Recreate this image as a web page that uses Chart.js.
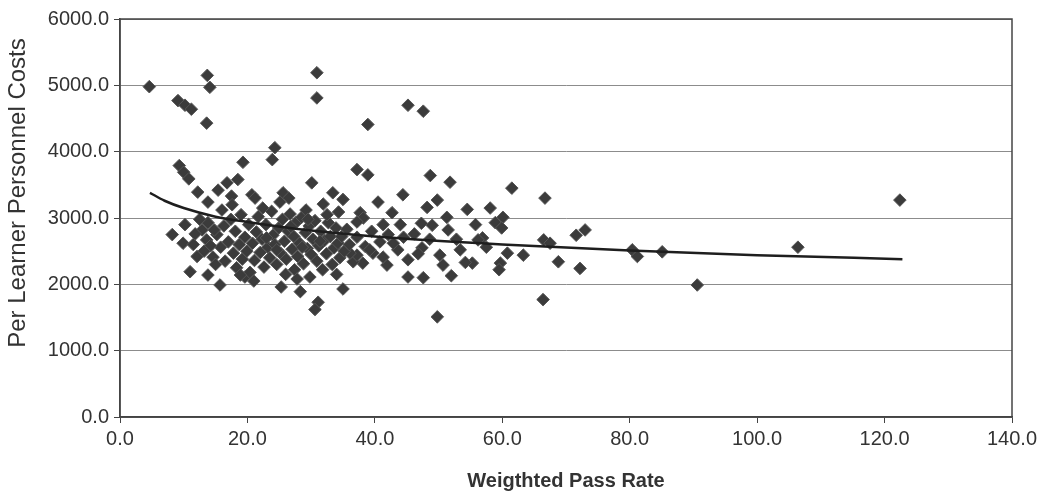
<!DOCTYPE html>
<html><head><meta charset="utf-8">
<script src="https://cdn.jsdelivr.net/npm/chart.js@4/dist/chart.umd.min.js"></script>
<style>html,body{margin:0;padding:0;background:#fff;}#wrap{width:1043px;height:497px;position:relative;}</style>
</head><body><div id="wrap"><canvas id="c"></canvas></div>
<script>
const passRate = [
  4.6, 9.1, 10.2, 11.2, 13.7, 14.1, 13.6, 30.9, 30.9, 38.9, 45.2, 47.6,
  24.3, 23.9, 19.3, 9.3, 10.0, 10.8, 37.2, 38.9, 48.7, 51.8, 61.5, 66.7,
  30.1, 18.5, 16.8, 15.4, 12.2, 13.8, 17.5, 20.7, 21.2, 25.6, 25.1, 26.5,
  31.9, 33.4, 35.0, 34.3, 37.7, 40.5, 44.4, 49.8, 48.2, 42.7, 54.5, 58.1, 51.3, 60.1, 58.9, 59.9,
  38.2, 37.2, 41.3, 47.3, 49.0, 51.5, 42.1, 44.5,
  56.9, 56.2, 66.5, 67.5, 71.6, 73.0, 80.4, 81.2, 85.1, 90.6, 106.4, 122.4,
  60.8, 63.3, 59.7, 59.5, 68.8, 72.2, 66.4,
  55.3, 53.4, 54.2, 50.2, 50.7, 52.0, 47.6, 45.2, 45.2, 47.4, 43.6, 39.7, 38.5, 41.9, 41.3, 40.8, 39.2, 38.1, 36.6, 37.2, 36.1, 37.2, 49.8,
  35.0, 31.1, 30.6, 28.3, 25.3, 29.8, 27.4, 19.6, 15.7, 13.8, 11.0, 12.1, 9.9, 8.2, 10.2, 12.9, 13.6, 14.6, 13.8,
  15.2, 15.8, 16.3, 16.5, 17.0, 17.4, 17.8, 18.1, 18.3, 18.7, 19.0, 19.2, 19.6, 19.9, 20.2, 20.4, 16.0, 17.6, 18.9,
  20.8, 21.1, 21.4, 21.7, 22.0, 22.3, 22.6, 22.9, 23.2, 23.5, 23.8, 24.0, 24.3, 24.6, 24.9, 25.2, 22.4, 21.0,
  25.5, 25.8, 26.1, 26.4, 26.7, 27.0, 27.3, 27.6, 27.9, 28.2, 28.5, 28.8, 29.1, 29.4, 29.7, 30.0, 30.3, 26.0, 27.8, 29.2,
  30.6, 30.9, 31.2, 31.5, 31.8, 32.1, 32.4, 32.7, 33.0, 33.3, 33.6, 33.9, 34.2, 34.5, 34.8, 35.2, 35.6, 36.0, 32.5, 34.0,
  11.5, 12.5, 14.2, 14.8, 11.8, 15.0, 13.2,
  39.5, 42.9, 44.0, 46.2, 46.8, 48.6, 52.8, 55.8, 57.5,
  23.0, 26.8, 28.6, 31.4, 24.6, 29.5
];
const personnelCost = [
  4980, 4770, 4700, 4640, 5150, 4970, 4430, 5190, 4810, 4410, 4700, 4610,
  4060, 3880, 3840, 3790, 3690, 3590, 3730, 3650, 3640, 3540, 3450, 3300,
  3530, 3580, 3530, 3420, 3390, 3240, 3330, 3350, 3300, 3380, 3240, 3300,
  3210, 3380, 3280, 3090, 3080, 3240, 3350, 3270, 3160, 3080, 3130, 3150, 3010, 3010, 2930, 2850,
  3000, 2940, 2900, 2920, 2890, 2820, 2750, 2710,
  2700, 2670, 2670, 2620, 2740, 2820, 2520, 2420, 2490, 1990, 2560, 3270,
  2470, 2440, 2320, 2220, 2340, 2240, 1770,
  2320, 2520, 2330, 2440, 2290, 2130, 2100, 2110, 2370, 2550, 2520, 2470, 2570, 2290, 2410, 2640, 2520, 2320, 2340, 2440, 2470, 2710, 1510,
  1930, 1730, 1620, 1890, 1960, 2110, 2220, 2110, 1990, 2140, 2190, 2420, 2620, 2750, 2900, 2820, 2670, 2410, 2930,
  2750, 2560, 2880, 2350, 2640, 2980, 2470, 2800, 2250, 2600, 3050, 2380, 2710, 2500, 2900, 2180, 3120, 3200, 2140,
  2620, 2360, 2790, 3020, 2480, 2680, 2260, 2900, 2560, 2400, 3100, 2740, 2600, 2300, 2850, 2470, 3150, 2050,
  2980, 2650, 2380, 2800, 3060, 2530, 2720, 2930, 2420, 2620, 3010, 2310, 2780, 2540, 2880, 2450, 2680, 2150, 2080, 3120,
  2960, 2350, 2580, 2800, 2220, 2660, 2460, 2930, 2720, 2300, 2550, 2850, 2620, 2400, 2720, 2500, 2830, 2600, 3050, 2150,
  2600, 2980, 2580, 2820, 2760, 2300, 2500,
  2800, 2620, 2900, 2760, 2460, 2680, 2680, 2900, 2560,
  2700, 2870, 2560, 2650, 2520, 2980
];
const trendX = [4.7, 7, 10, 15, 20, 30, 40, 60, 80, 100, 122.8];
const trendY = [3380, 3260, 3150, 3020, 2940, 2810, 2720, 2600, 2510, 2440, 2380];
const xTickValues = [0, 20, 40, 60, 80, 100, 120, 140];
const yTickValues = [0, 1000, 2000, 3000, 4000, 5000, 6000];
const xTitle = 'Weigthted Pass Rate';
const yTitle = 'Per Learner Personnel Costs';

const scatterPoints = passRate.map((x, i) => ({x: x, y: personnelCost[i]}));
const trendPoints = trendX.map((x, i) => ({x: x, y: trendY[i]}));

const FONT = '"Liberation Sans", Arial, sans-serif';

const frame = {
  id: 'frame',
  beforeDatasetsDraw(chart) {
    const {ctx, chartArea: a} = chart;
    ctx.save();
    ctx.strokeStyle = '#444';
    ctx.lineWidth = 1.5;
    ctx.strokeRect(a.left, a.top, a.right - a.left, a.bottom - a.top);
    ctx.restore();
  }
};
const yTitlePlugin = {
  id: 'ytitle',
  afterDraw(chart) {
    const ctx = chart.ctx;
    ctx.save();
    ctx.translate(18, 193);
    ctx.rotate(-Math.PI / 2);
    ctx.font = '24px ' + FONT;
    ctx.fillStyle = '#333';
    ctx.textAlign = 'center';
    ctx.textBaseline = 'middle';
    ctx.fillText(yTitle, 0, 0);
    ctx.restore();
  }
};

new Chart(document.getElementById('c'), {
  type: 'scatter',
  data: {
    datasets: [
      {
        label: 'Data',
        data: scatterPoints,
        pointStyle: 'rectRot',
        pointRadius: 6.3,
        pointHoverRadius: 6.3,
        backgroundColor: '#3b3b3b',
        borderColor: '#555',
        borderWidth: 1,
        order: 2
      },
      {
        label: 'Trend',
        data: trendPoints,
        showLine: true,
        pointRadius: 0,
        borderColor: '#1e1e1e',
        borderWidth: 2.5,
        tension: 0.4,
        cubicInterpolationMode: 'monotone',
        fill: false,
        order: 1
      }
    ]
  },
  options: {
    responsive: true,
    maintainAspectRatio: false,
    animation: false,
    layout: {padding: {top: 19, right: 31, left: 0, bottom: 0}},
    plugins: {legend: {display: false}, tooltip: {enabled: false}},
    scales: {
      x: {
        type: 'linear', min: 0, max: 140,
        afterBuildTicks: s => { s.ticks = xTickValues.map(v => ({value: v})); },
        afterFit: s => { s.height = 80; },
        grid: {display: true, drawOnChartArea: false, tickLength: 6, tickColor: '#444'},
        border: {display: true, color: '#444', width: 1.5},
        ticks: {font: {family: FONT, size: 20}, color: '#333', padding: 4, maxRotation: 0,
                callback: v => Number(v).toFixed(1)},
        title: {display: true, text: xTitle, color: '#333',
                font: {family: FONT, size: 20, weight: 'bold'}, padding: {top: 0, bottom: 4}}
      },
      y: {
        type: 'linear', min: 0, max: 6000,
        afterBuildTicks: s => { s.ticks = yTickValues.map(v => ({value: v})); },
        afterFit: s => { s.width = 120; },
        grid: {color: '#8c8c8c', lineWidth: 1, tickLength: 6, tickColor: '#444'},
        border: {display: true, color: '#444', width: 1.5},
        ticks: {font: {family: FONT, size: 20}, color: '#333', padding: 5,
                callback: v => Number(v).toFixed(1)},
        title: {display: false}
      }
    }
  },
  plugins: [frame, yTitlePlugin]
});
</script>
</body></html>
